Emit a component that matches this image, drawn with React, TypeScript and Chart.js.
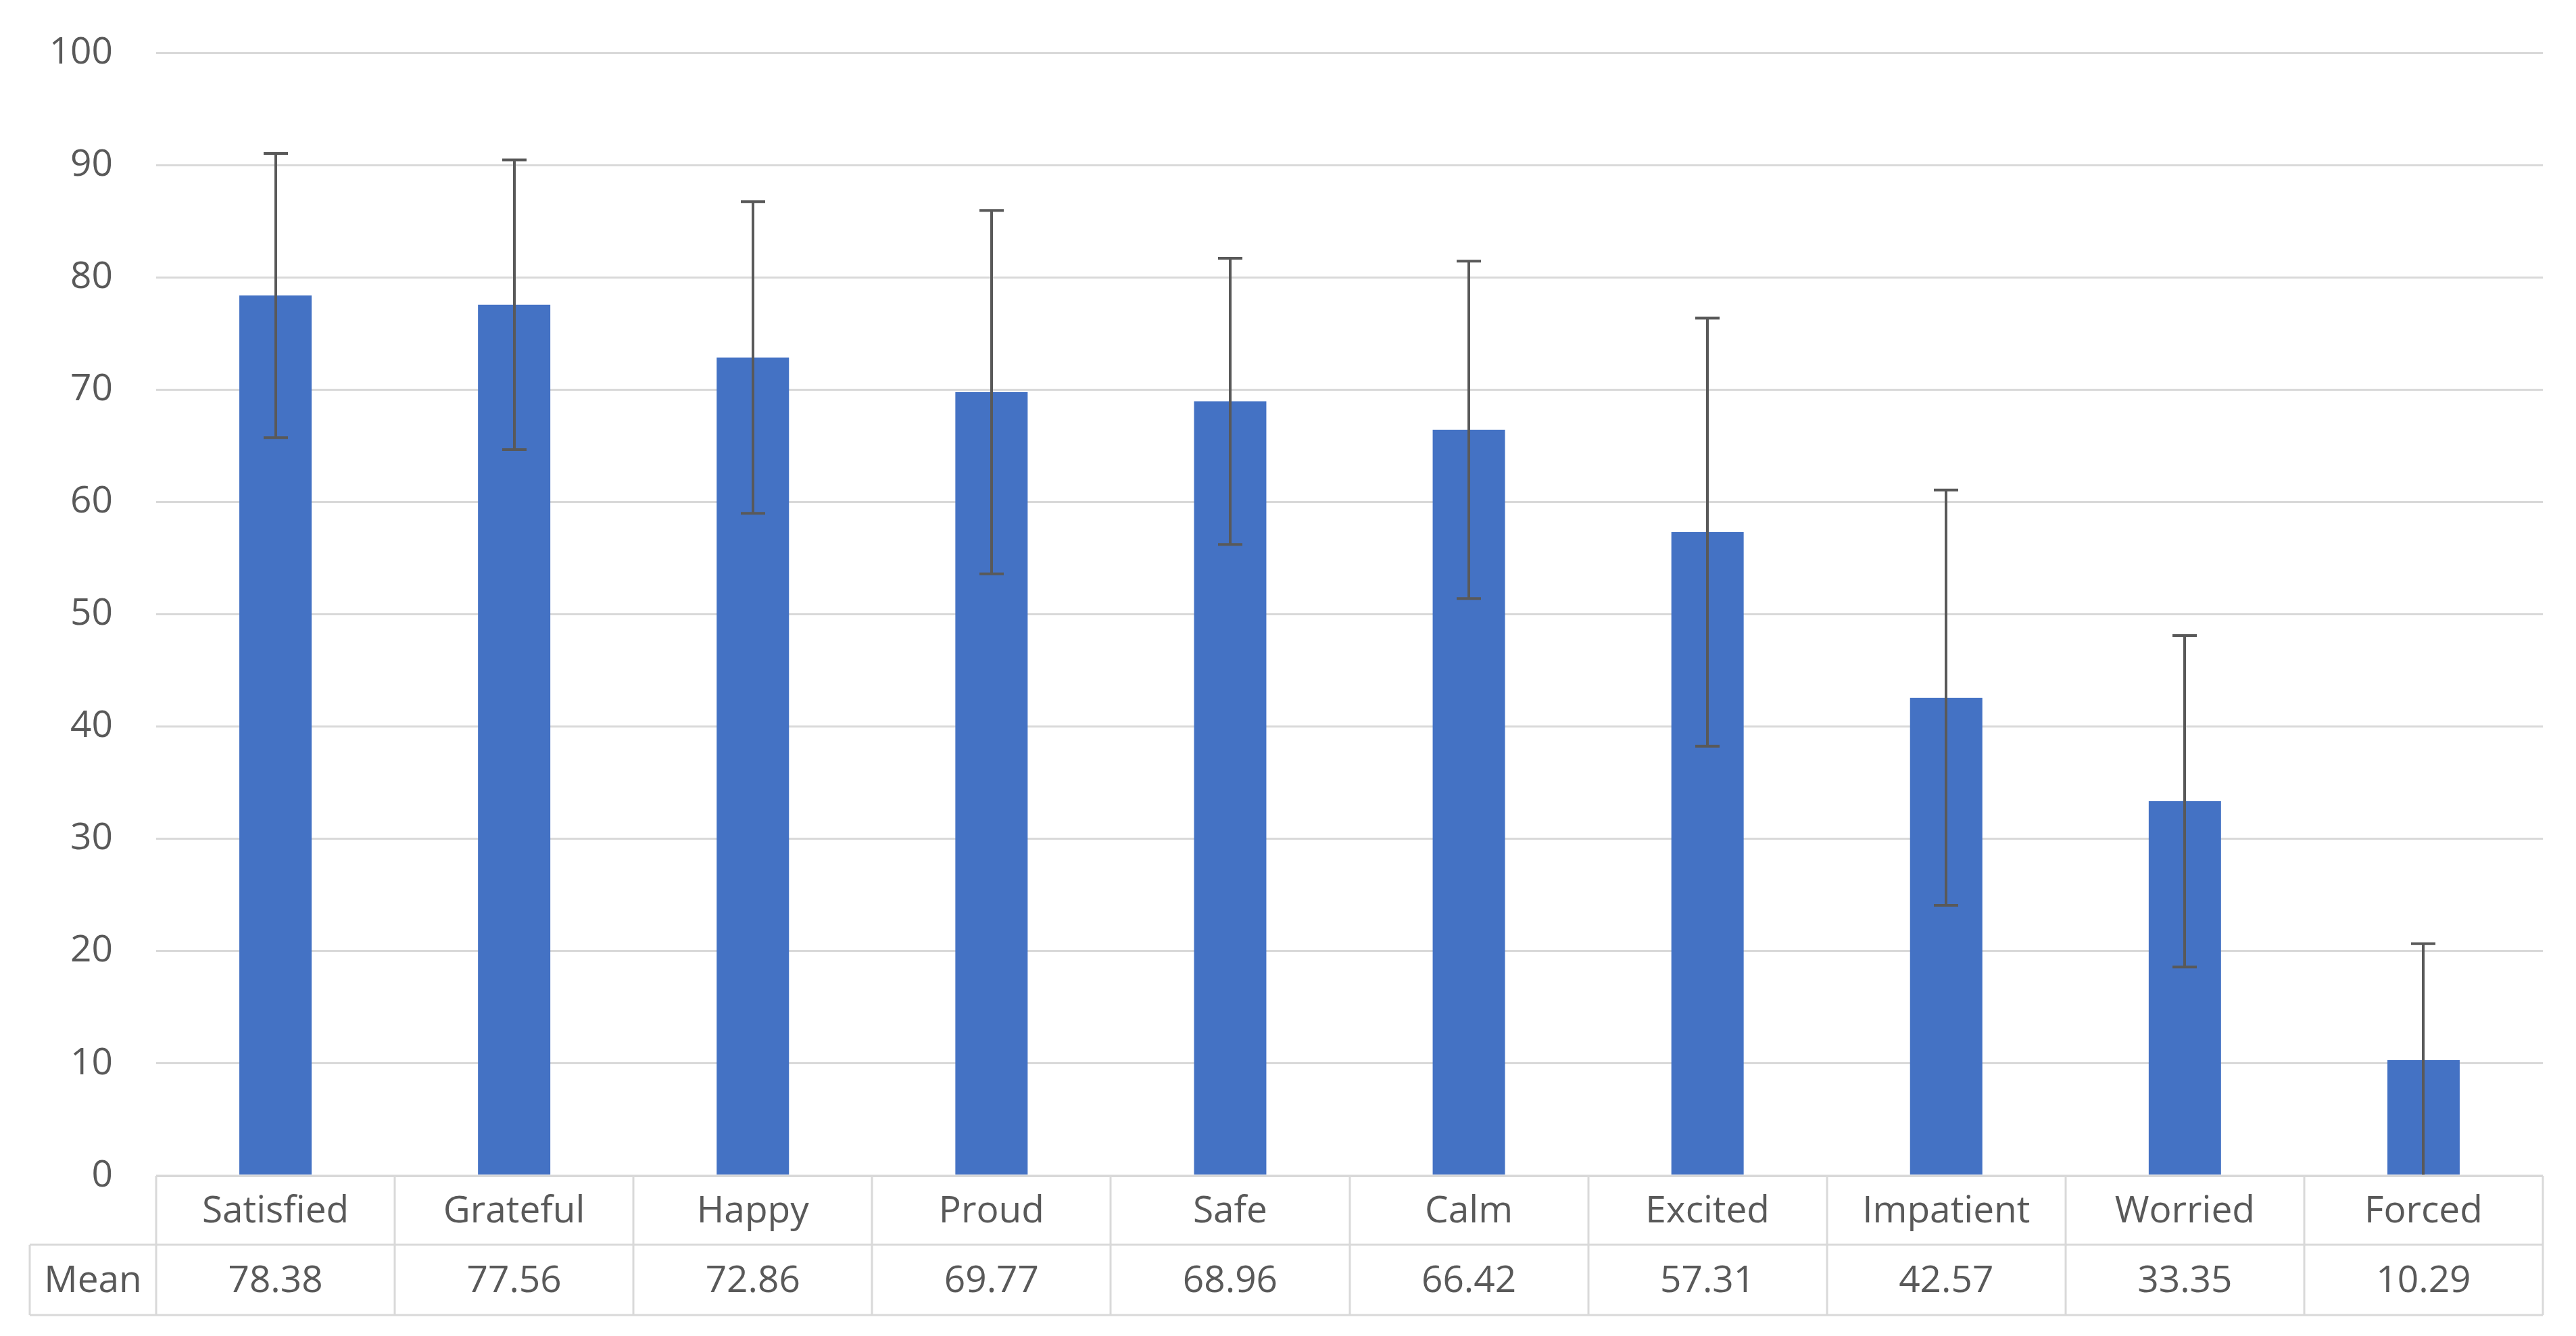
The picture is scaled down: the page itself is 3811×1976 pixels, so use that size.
import React, { useEffect, useRef } from "react";
import { Chart, registerables } from "chart.js";

Chart.register(...registerables);

const categories = ["Satisfied", "Grateful", "Happy", "Proud", "Safe", "Calm", "Excited", "Impatient", "Worried", "Forced"];
const means = [78.38, 77.56, 72.86, 69.77, 68.96, 66.42, 57.31, 42.57, 33.35, 10.29];
const errors = [12.65, 12.9, 13.88, 16.18, 12.74, 15.02, 19.06, 18.49, 14.76, 10.38];
const tableRowLabel = "Mean";
const yMin = 0;
const yMax = 100;
const yStep = 10;

const TEXT_COLOR = "#595959";
const GRID_COLOR = "#d9d9d9";
const BAR_COLOR = "#4472C4";
const ERR_COLOR = "#595959";
const FONT_FAMILY = '"Open Sans", "Noto Sans", sans-serif';
const FONT_SIZE = 55;

const errorBarPlugin = {
  id: "errorBars",
  afterDatasetsDraw(chart: any) {
    const ctx = chart.ctx;
    const meta = chart.getDatasetMeta(0);
    const y = chart.scales.y;
    const cap = 18;
    ctx.save();
    ctx.strokeStyle = ERR_COLOR;
    ctx.lineWidth = 4;
    meta.data.forEach((bar: any, i: number) => {
      const hi = means[i] + errors[i];
      const loRaw = means[i] - errors[i];
      const lo = Math.max(yMin, loRaw);
      const x = Math.round(bar.x);
      const yTop = y.getPixelForValue(hi);
      const yBot = y.getPixelForValue(lo);
      ctx.beginPath();
      ctx.moveTo(x, yTop);
      ctx.lineTo(x, yBot);
      ctx.moveTo(x - cap, yTop);
      ctx.lineTo(x + cap, yTop);
      if (loRaw >= yMin) {
        ctx.moveTo(x - cap, yBot);
        ctx.lineTo(x + cap, yBot);
      }
      ctx.stroke();
    });
    ctx.restore();
  },
};

const dataTablePlugin = {
  id: "dataTable",
  afterDraw(chart: any) {
    const ctx = chart.ctx;
    const area = chart.chartArea;
    const xScale = chart.scales.x;
    const n = categories.length;
    const colW = (area.right - area.left) / n;
    const top = area.bottom;
    const rowH1 = 102;
    const rowH2 = 104;
    const mid = top + rowH1;
    const bottom = mid + rowH2;
    const labelLeft = 44;

    ctx.save();
    ctx.strokeStyle = GRID_COLOR;
    ctx.lineWidth = 3;
    ctx.beginPath();
    ctx.moveTo(area.left, top);
    ctx.lineTo(area.right, top);
    ctx.moveTo(labelLeft, mid);
    ctx.lineTo(area.right, mid);
    ctx.moveTo(labelLeft, bottom);
    ctx.lineTo(area.right, bottom);
    ctx.moveTo(labelLeft, mid);
    ctx.lineTo(labelLeft, bottom);
    for (let i = 0; i <= n; i++) {
      const x = Math.round(area.left + i * colW);
      ctx.moveTo(x, top);
      ctx.lineTo(x, bottom);
    }
    ctx.stroke();

    ctx.fillStyle = TEXT_COLOR;
    ctx.font = `${FONT_SIZE}px ${FONT_FAMILY}`;
    ctx.textAlign = "center";
    ctx.textBaseline = "middle";
    categories.forEach((c, i) => {
      const cx = xScale.getPixelForValue(i);
      ctx.fillText(c, cx, top + rowH1 / 2 + 2);
      ctx.fillText(means[i].toFixed(2), cx, mid + rowH2 / 2 + 2);
    });
    ctx.fillText(tableRowLabel, (labelLeft + area.left) / 2, mid + rowH2 / 2 + 2);
    ctx.restore();
  },
};

export default function App() {
  const canvasRef = useRef<HTMLCanvasElement | null>(null);

  useEffect(() => {
    if (!canvasRef.current) return;
    const chart = new Chart(canvasRef.current, {
      type: "bar",
      data: {
        labels: categories,
        datasets: [
          {
            label: tableRowLabel,
            data: means,
            backgroundColor: BAR_COLOR,
            borderWidth: 0,
            barPercentage: 0.303,
            categoryPercentage: 1,
          },
        ],
      },
      options: {
        responsive: false,
        animation: false,
        devicePixelRatio: 1,
        layout: { padding: { top: 78, right: 49, bottom: 237, left: 0 } },
        plugins: {
          legend: { display: false },
          tooltip: { enabled: false },
          title: { display: false },
        },
        scales: {
          x: {
            display: false,
            grid: { display: false },
          },
          y: {
            min: yMin,
            max: yMax,
            border: { display: false },
            grid: { color: GRID_COLOR, lineWidth: 3, drawTicks: false },
            ticks: {
              stepSize: yStep,
              padding: 64,
              color: TEXT_COLOR,
              font: { family: FONT_FAMILY, size: FONT_SIZE },
            },
            afterFit(scale: any) {
              scale.width = 231;
              scale.paddingTop = 0;
              scale.paddingBottom = 0;
            },
          },
        },
      },
      plugins: [errorBarPlugin, dataTablePlugin],
    });
    return () => chart.destroy();
  }, []);

  return (
    <div style={{ position: "fixed", left: 0, top: 0, width: 3811, height: 1976, background: "#ffffff" }}>
      <canvas ref={canvasRef} width={3811} height={1976} style={{ width: 3811, height: 1976, display: "block" }} />
    </div>
  );
}
